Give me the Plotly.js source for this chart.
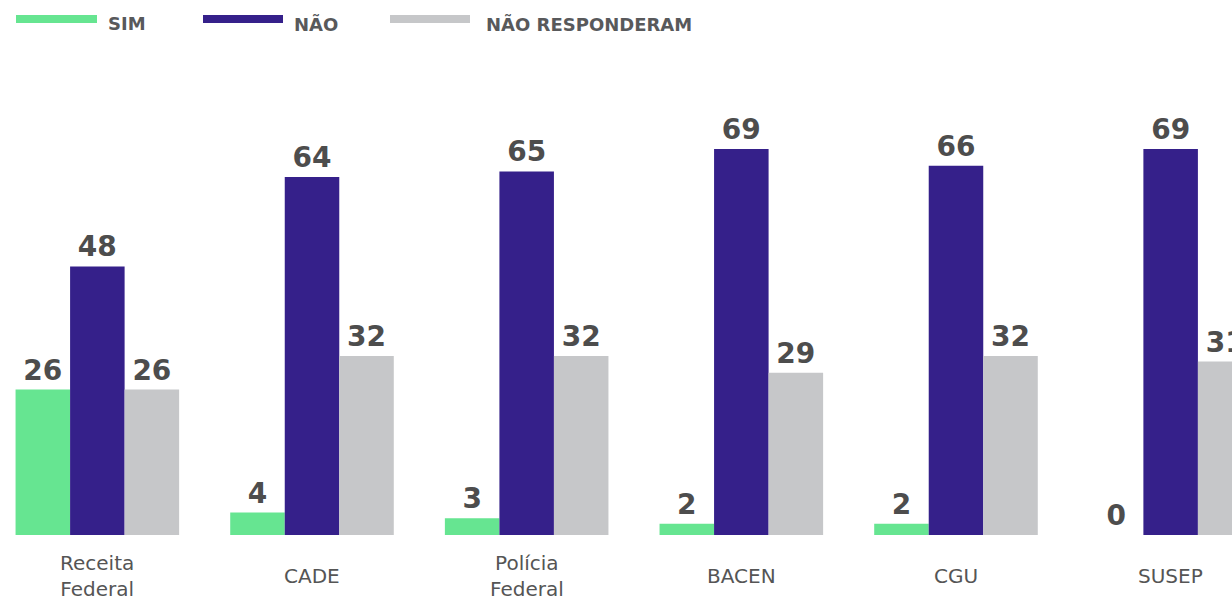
<!DOCTYPE html>
<html>
<head>
<meta charset="utf-8">
<script src="https://cdn.plot.ly/plotly-3.0.1.min.js"></script>
<style>html,body{margin:0;padding:0;background:#fff;}#chart{width:1232px;height:600px;}</style>
</head>
<body>
<div id="chart"></div>
<script>
const categories = ["Receita Federal", "CADE", "Polícia Federal", "BACEN", "CGU", "SUSEP"];
const categoryLabels = ["Receita<br>Federal", "CADE", "Polícia<br>Federal", "BACEN", "CGU", "SUSEP"];
const seriesNames = ["SIM", "NÃO", "NÃO RESPONDERAM"];
const simValues = [26, 4, 3, 2, 2, 0];
const naoValues = [48, 64, 65, 69, 66, 69];
const naoRespValues = [26, 32, 32, 29, 32, 31];
const colors = ["#66e591", "#35208a", "#c6c7c9"];

const W = 1232, H = 600, mt = 60, mb = 65;
const plotH = H - mt - mb;
const pxPerUnit = 386 / 69;
const yMax = plotH / pxPerUnit;

const labelFont = {family: "DejaVu Sans", size: 28, color: "#4d4d4d", weight: 700};
const allValues = [simValues, naoValues, naoRespValues];
const traces = allValues.map((vals, i) => ({
  type: "bar",
  name: seriesNames[i],
  x: categories,
  y: vals,
  marker: {color: colors[i]},
  text: vals.map(String),
  textposition: "outside",
  textfont: labelFont,
  cliponaxis: true,
  constraintext: "none",
  hoverinfo: "skip"
}));

function py(px) { return (H - mb - px) / plotH; }

const shapes = [];
const annotations = [];
// legend
const legendSwatch = [[16, 97], [203, 283], [390, 470]];
const legendText = [106, 292, 484];
seriesNames.forEach((n, i) => {
  shapes.push({type: "rect", xref: "paper", yref: "paper",
    x0: legendSwatch[i][0] / W, x1: legendSwatch[i][1] / W,
    y0: py(23), y1: py(15), fillcolor: colors[i], line: {width: 0}});
  annotations.push({xref: "paper", yref: "paper", x: legendText[i] / W, y: py(23.5),
    xanchor: "left", yanchor: "middle", showarrow: false, text: n,
    font: {family: "DejaVu Sans", size: 18, color: "#58595b", weight: 700}});
});
// category labels
categories.forEach((c, i) => {
  annotations.push({xref: "x", yref: "paper", x: c, y: py(576),
    xanchor: "center", yanchor: "middle", showarrow: false, text: categoryLabels[i],
    font: {family: "DejaVu Sans", size: 20, color: "#555555"}});
});

const layout = {
  width: W, height: H,
  margin: {l: 0, r: 0, t: mt, b: mb, pad: 0},
  paper_bgcolor: "#ffffff", plot_bgcolor: "#ffffff",
  barmode: "group", bargap: 0.238, bargroupgap: 0,
  showlegend: false,
  xaxis: {type: "category", range: [-0.4535, 5.2858], showticklabels: false,
    showgrid: false, zeroline: false, showline: false, ticks: "", fixedrange: true},
  yaxis: {range: [0, yMax], visible: false, showgrid: false, zeroline: false, fixedrange: true},
  shapes: shapes,
  annotations: annotations
};

Plotly.newPlot("chart", traces, layout, {displayModeBar: false, staticPlot: true});
</script>
</body>
</html>
